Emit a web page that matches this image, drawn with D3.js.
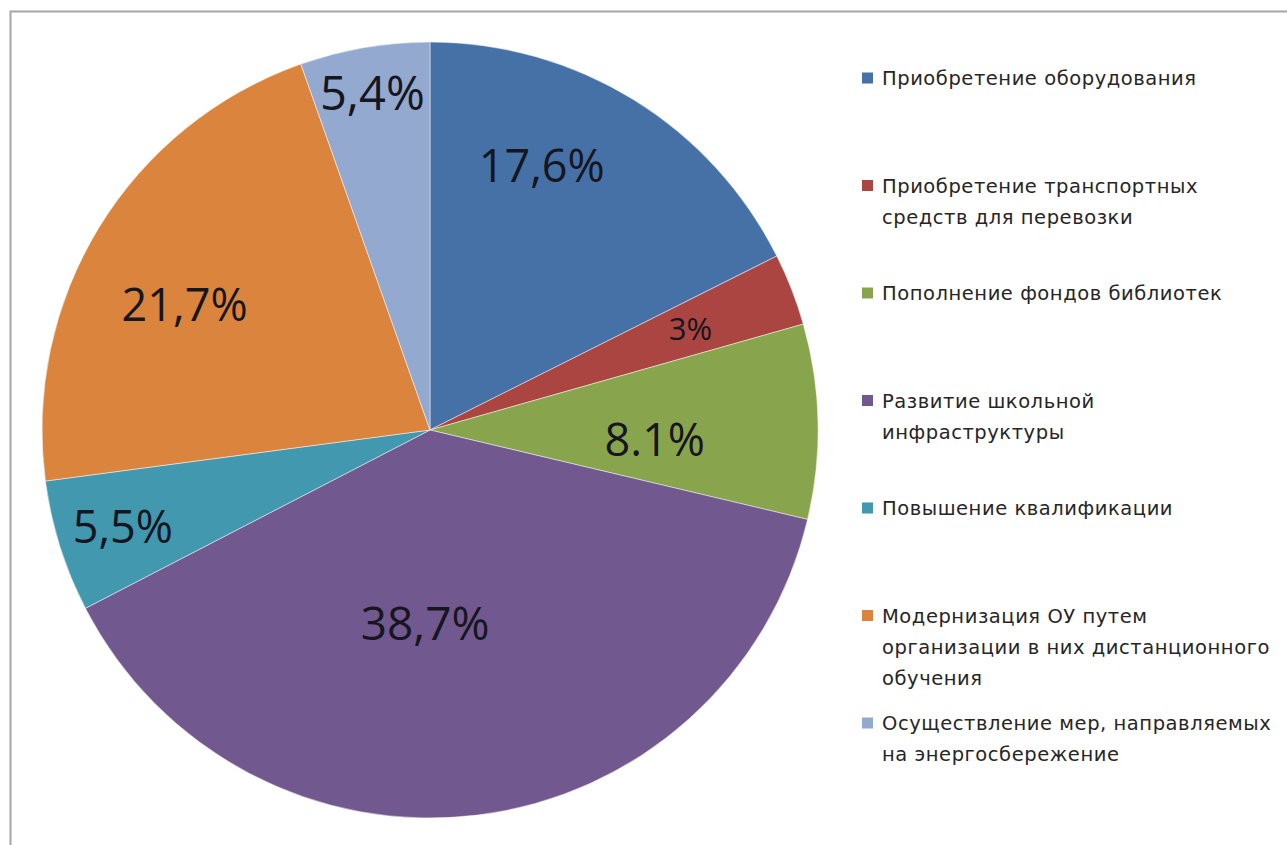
<!DOCTYPE html>
<html>
<head>
<meta charset="utf-8">
<script src="https://cdn.jsdelivr.net/npm/d3@7"></script>
<style>
  body { margin: 0; background: #fff; }
  svg { display: block; }
</style>
</head>
<body>
<div id="chart"></div>
<script>
// Data
var categories = [
  "Приобретение оборудования",
  "Приобретение транспортных средств для перевозки",
  "Пополнение фондов библиотек",
  "Развитие школьной инфраструктуры",
  "Повышение квалификации",
  "Модернизация ОУ путем организации в них дистанционного обучения",
  "Осуществление мер, направляемых на энергосбережение"
];
var values = [17.6, 3, 8.1, 38.7, 5.5, 21.7, 5.4];
var valueLabels = ["17,6%", "3%", "8.1%", "38,7%", "5,5%", "21,7%", "5,4%"];
var legendLines = [
  ["Приобретение оборудования"],
  ["Приобретение транспортных", "средств для перевозки"],
  ["Пополнение фондов библиотек"],
  ["Развитие школьной", "инфраструктуры"],
  ["Повышение квалификации"],
  ["Модернизация ОУ путем", "организации в них дистанционного", "обучения"],
  ["Осуществление мер, направляемых", "на энергосбережение"]
];
var colors = ["#4671a7", "#aa4542", "#88a54d", "#71588f", "#4198af", "#db843d", "#93a9cf"];

var svgWidth = 1287, svgHeight = 845;
var cx = 430, cy = 430, radius = 388;

var svg = d3.select("#chart")
  .append("svg")
  .attr("width", svgWidth)
  .attr("height", svgHeight);

// chart frame (only top and left edges are visible in the crop)
svg.append("path")
  .attr("d", `M10.5,${svgHeight + 5} L10.5,11.5 L${svgWidth + 5},11.5`)
  .attr("fill", "none")
  .attr("stroke", "#a6a6a6")
  .attr("stroke-width", 2);

var pie = d3.pie().sort(null).value(d => d);
var arcs = pie(values);

var arc = d3.arc().innerRadius(0).outerRadius(radius);

var pieGroup = svg.append("g")
  .attr("transform", `translate(${cx}, ${cy})`);

pieGroup.selectAll("path")
  .data(arcs)
  .enter()
  .append("path")
  .attr("d", arc)
  .attr("fill", (d, i) => colors[i])
  .attr("stroke", "rgba(255,255,255,0.6)")
  .attr("stroke-width", 0.8);

// label placement like Excel's "best fit": radial distance and angle shift per slice
var labelRadius = [0.74, 0.72, 0.58, 0.5, 0.83, 0.71, 0.88];
var labelShift = [-0.153, 0, 0.066, 0.148, 0, -0.078, 0];
var labelSize = [45, 31, 45, 46, 45, 45, 47];

pieGroup.selectAll("text.value")
  .data(arcs)
  .enter()
  .append("text")
  .attr("class", "value")
  .attr("x", (d, i) => Math.sin((d.startAngle + d.endAngle) / 2 + labelShift[i]) * radius * labelRadius[i])
  .attr("y", (d, i) => -Math.cos((d.startAngle + d.endAngle) / 2 + labelShift[i]) * radius * labelRadius[i])
  .attr("dy", "0.36em")
  .attr("text-anchor", "middle")
  .attr("font-family", "'Open Sans', sans-serif")
  .attr("font-size", (d, i) => labelSize[i] + "px")
  .attr("fill", "#161620")
  .text((d, i) => valueLabels[i]);

// legend
var legend = svg.append("g")
  .attr("transform", "translate(862, 78)");

var entry = legend.selectAll("g.entry")
  .data(legendLines)
  .enter()
  .append("g")
  .attr("class", "entry")
  .attr("transform", (d, i) => `translate(0, ${i * 107.5})`);

entry.append("rect")
  .attr("x", 0)
  .attr("y", -5.5)
  .attr("width", 11)
  .attr("height", 11)
  .attr("fill", (d, i) => colors[i]);

entry.each(function(lines) {
  var t = d3.select(this).append("text")
    .attr("font-family", "'DejaVu Sans', sans-serif")
    .attr("font-size", "19.5px")
    .attr("letter-spacing", "0.55px")
    .attr("fill", "#262626");
  lines.forEach(function(line, j) {
    t.append("tspan")
      .attr("x", 20)
      .attr("y", j * 31)
      .attr("dy", "0.36em")
      .text(line);
  });
});
</script>
</body>
</html>
